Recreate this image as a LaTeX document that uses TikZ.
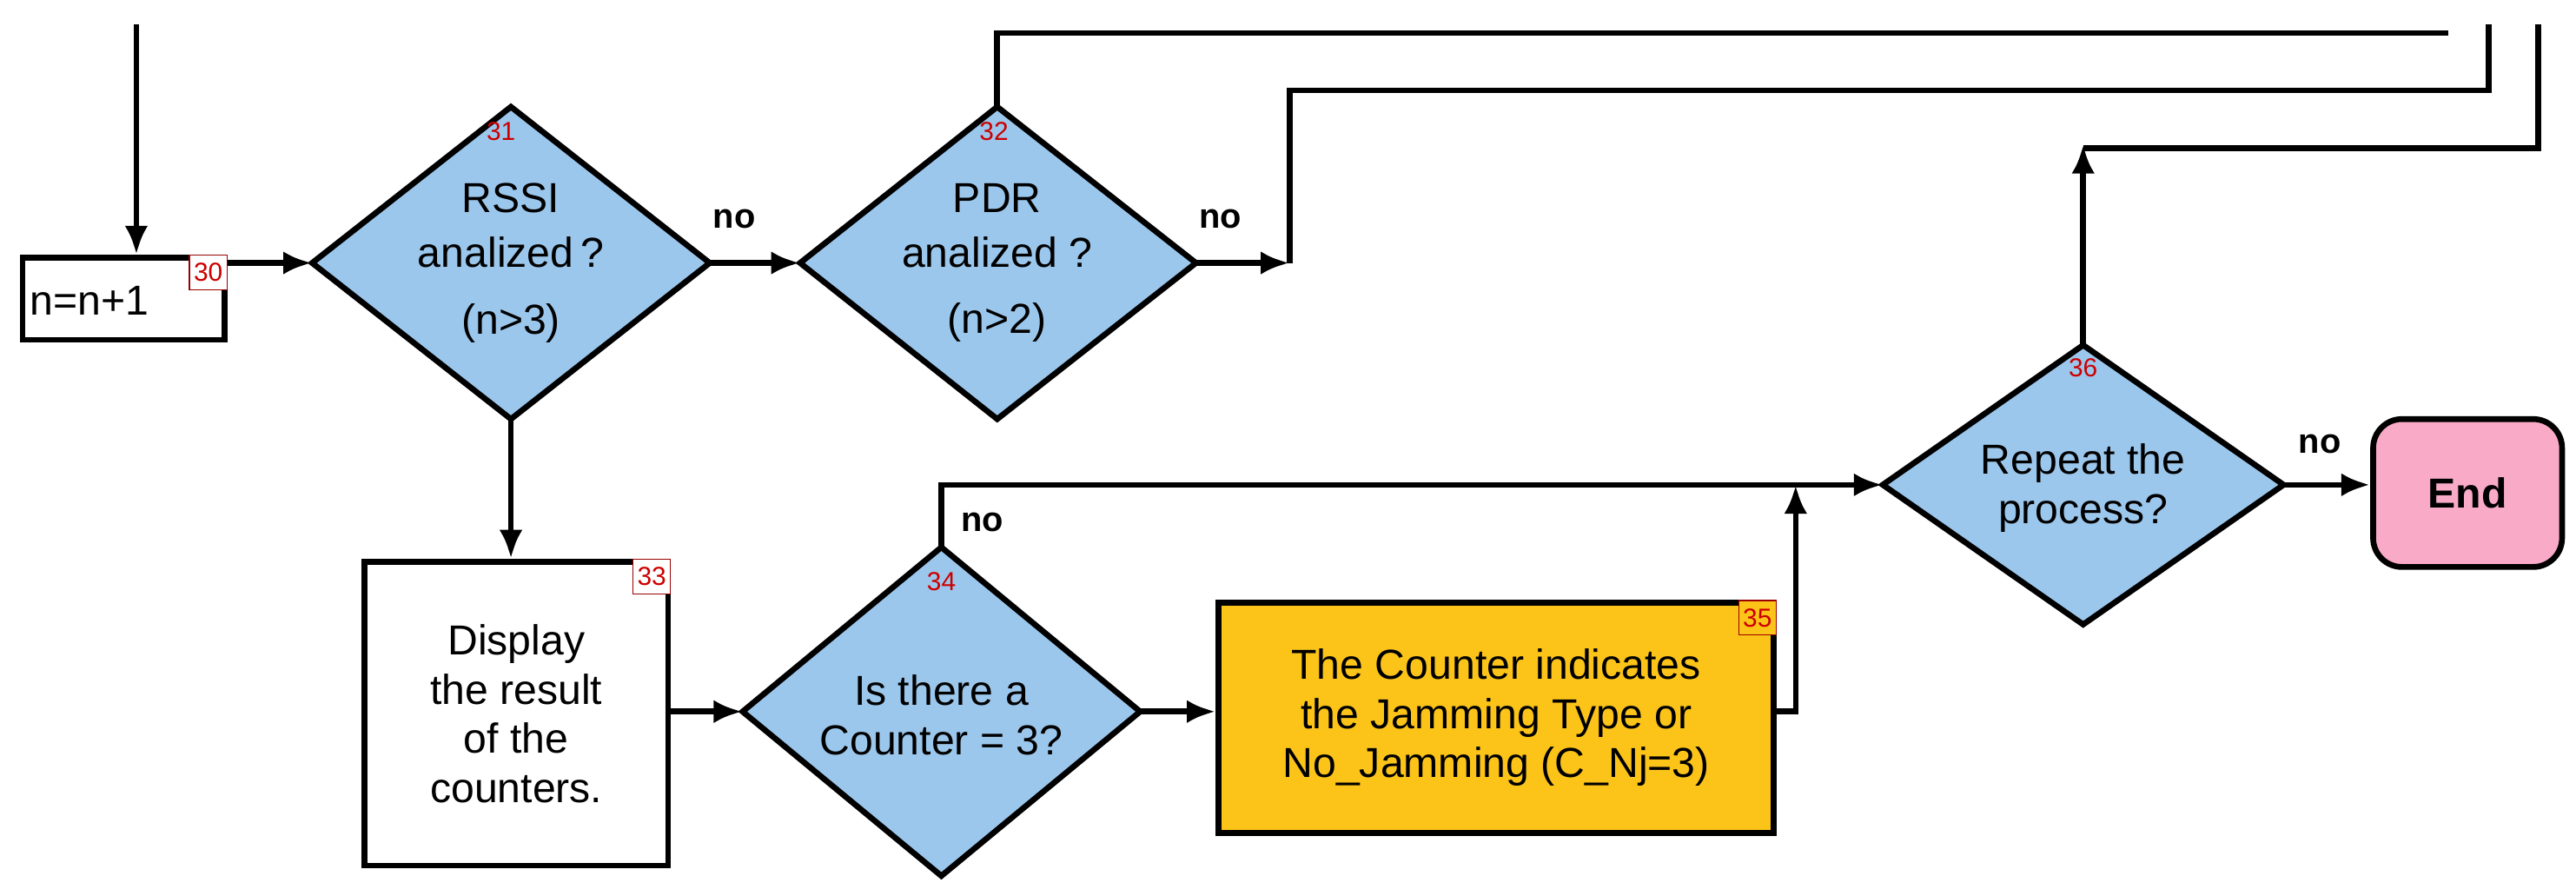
\documentclass[tikz,border=0pt]{standalone}
\usepackage{fontspec}
\setmainfont{Liberation Sans}
\usetikzlibrary{shapes.geometric,arrows.meta}
\definecolor{dblue}{HTML}{9CC7EC}
\definecolor{borange}{HTML}{FCC419}
\definecolor{epink}{HTML}{F8AAC6}
\tikzset{
  txt/.style={font=\fontsize{14.5}{17}\selectfont,align=center},
  box/.style={draw,line width=2pt,rectangle,inner sep=0pt},
  con/.style={line width=2pt},
  arr/.style={con,-{Latex[length=10pt,width=8pt]}},
  tag/.style={font=\fontsize{9}{10}\selectfont,text=red!80!black,inner sep=1pt},
  tagbox/.style={tag,draw=red!60!black,line width=0.4pt,fill=white,minimum width=13pt,minimum height=12pt},
  lab/.style={font=\bfseries\fontsize{12}{14}\selectfont}
}
\begin{document}
\begin{tikzpicture}[x=0.02cm,y=-0.02cm]
\useasboundingbox (0,0) rectangle (1568,545);
% nodes
\node[box,minimum width=123*0.02cm,minimum height=50*0.02cm,anchor=north west] (b30) at (12,155) {};
\node[txt,anchor=west] (t30) at (12,183) {n=n+1};
\node[tagbox,anchor=north east] at (b30.north east) {30};
\path[draw,line width=2pt,fill=dblue] (190,160) -- (311,65) -- (432,160) -- (311,255) -- cycle;
\coordinate (d31w) at (190,160); \coordinate (d31e) at (432,160);
\coordinate (d31s) at (311,255);
\node[txt] (t31) at (311,160) {RSSI\\[2pt]analized\,?\\[6pt](n>3)};
\node[tag] at (305,80) {31};
\path[draw,line width=2pt,fill=dblue] (487,160) -- (607,65) -- (728,160) -- (607,255) -- cycle;
\coordinate (d32w) at (487,160); \coordinate (d32e) at (728,160);
\coordinate (d32n) at (607,65);
\node[txt] (t32) at (607,160) {PDR\\[2pt]analized ?\\[6pt](n>2)};
\node[tag] at (605,80) {32};
\node[lab] at (447,133) {no};
\node[lab] at (743,133) {no};
% box 33
\node[box,minimum width=185*0.02cm,minimum height=185*0.02cm,anchor=north west] (b33) at (220,340) {};
\node[txt] at (b33.center) {Display\\the result\\of the\\counters.};
\node[tagbox,anchor=north east] at (b33.north east) {33};
% diamond 34
\path[draw,line width=2pt,fill=dblue] (452,433) -- (573,333) -- (694,433) -- (573,533) -- cycle;
\coordinate (d34w) at (452,433); \coordinate (d34e) at (694,433);
\coordinate (d34n) at (573,333);
\node[txt] at (573,435) {Is there a\\Counter = 3?};
\node[tag] at (573,354) {34};
\node[lab] at (598,318) {no};
% box 35
\node[box,fill=borange,minimum width=338*0.02cm,minimum height=140*0.02cm,anchor=north west] (b35) at (740,365) {};
\node[txt] at (b35.center) {The Counter indicates\\the Jamming Type or\\No\_Jamming (C\_Nj=3)};
\node[tagbox,fill=borange,anchor=north east] at (b35.north east) {35};
% diamond 36
\path[draw,line width=2pt,fill=dblue] (1146,295) -- (1268,210) -- (1390,295) -- (1268,380) -- cycle;
\coordinate (d36w) at (1146,295); \coordinate (d36e) at (1390,295);
\coordinate (d36n) at (1268,210);
\node[txt] at (1268,297) {Repeat the\\process?};
\node[tag] at (1268,224) {36};
\node[lab] at (1412,270) {no};
\node[draw,line width=2pt,fill=epink,rounded corners=10pt,minimum width=115*0.02cm,minimum height=90*0.02cm,font=\bfseries\fontsize{14.5}{17}\selectfont] (end) at (1502,300) {End};
% connectors
\coordinate (in) at (83,15);
\draw[arr] (in) -- (83,155);
\draw[arr] (b30.east|-d31w) -- (d31w);
\draw[arr] (d31e) -- (d32w);
\coordinate (c1) at (785,160);
\draw[arr] (d32e) -- (c1);
\coordinate (c1top) at (1515,15);
\draw[con] (c1) -- (785,55) -- (1515,55) -- (c1top);
\coordinate (c2) at (1490,20);
\draw[con] (d32n) -- (607,20) -- (c2);
\draw[arr] (d31s) -- (b33.north-|d31s);
\draw[arr] (b33.east|-d34w) -- (d34w);
\draw[arr] (d34e) -- (b35.west|-d34e);
\draw[arr] (d34n) -- (573,295) -- (d36w);
\coordinate (j) at (1093,295);
\draw[arr] (b35.east|-d34e) -- (1093,433) -- (j);
\draw[arr] (d36e) -- (end.west|-d36e);
\coordinate (c3top) at (1545,15);
\draw[con] (1268,90) -- (1545,90) -- (c3top);
\draw[arr] (d36n) -- (1268,88);
\end{tikzpicture}
\end{document}
